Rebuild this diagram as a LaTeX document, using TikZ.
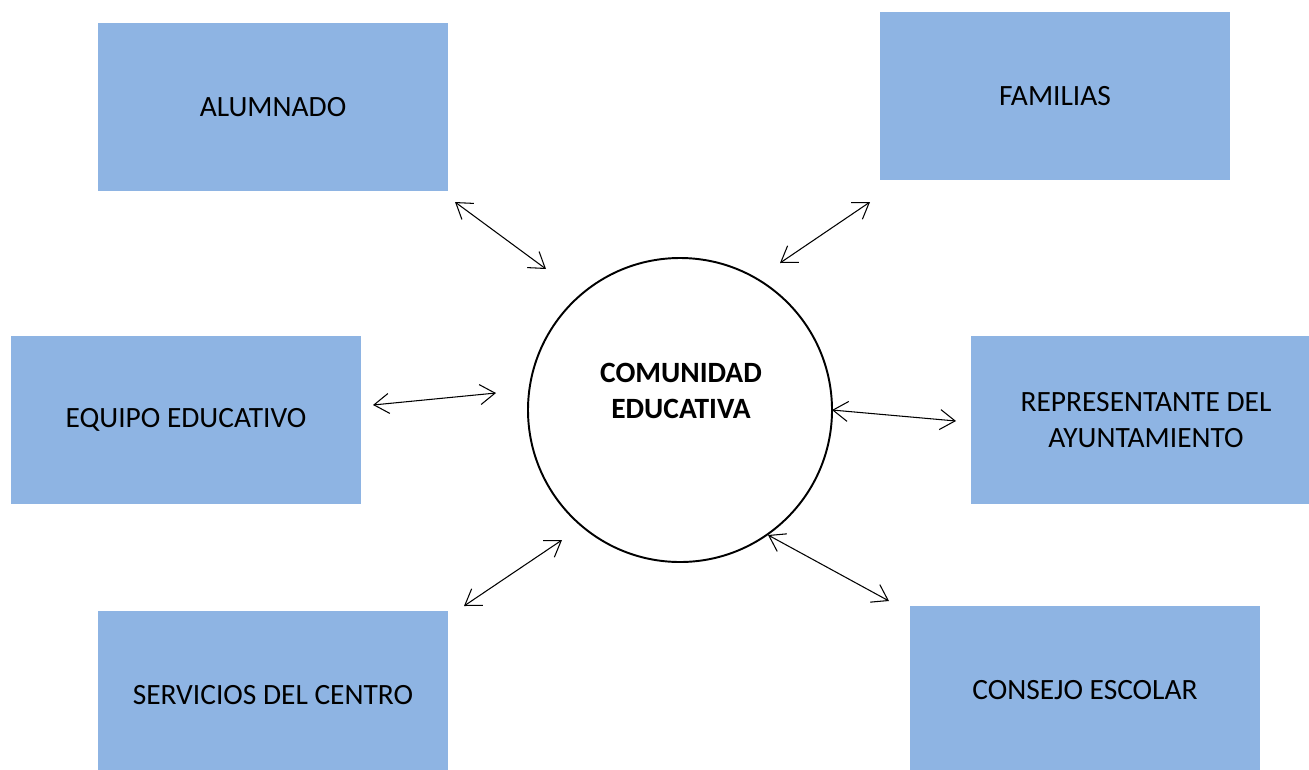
\documentclass[tikz,border=0pt]{standalone}
\usepackage{fontspec}
\setmainfont{Carlito}
\usetikzlibrary{arrows.meta, positioning}

\definecolor{boxblue}{HTML}{8EB4E3}

\tikzset{
  actor/.style={fill=boxblue, minimum width=7cm, minimum height=3.36cm,
    align=center, font=\fontsize{16.75}{20}\selectfont},
  link/.style={{Straight Barb[length=3mm,width=4mm]}-{Straight Barb[length=3mm,width=4mm]}, line width=0.6pt}
}

\begin{document}
\begin{tikzpicture}
    \path[use as bounding box, clip] (0,0) rectangle (26.18,-15.38);

    \node[circle, draw, line width=1.1pt, minimum size=6.08cm] (comunidad) at (13.6,-8.2) {};
    \node[align=center, font=\bfseries\fontsize{16.75}{20}\selectfont]
      (comunidad_label) at (13.62,-7.82) {COMUNIDAD\\EDUCATIVA};

    \node[actor] (alumnado) at (5.46,-2.14) {ALUMNADO};
    \node[actor] (familias) at (21.1,-1.92) {FAMILIAS};
    \node[actor] (equipo) at (3.72,-8.4) {EQUIPO EDUCATIVO};
    \node[actor] (ayto) at (22.92,-8.4) {REPRESENTANTE DEL\\AYUNTAMIENTO};
    \node[actor] (servicios) at (5.46,-13.9) {SERVICIOS DEL CENTRO};
    \node[actor] (consejo) at (21.7,-13.8) {CONSEJO ESCOLAR};

    % arrow ends
    \coordinate (alumnado-e) at (9.1,-4.04);
    \coordinate (comunidad-nw) at (10.92,-5.38);
    \coordinate (familias-e) at (17.4,-4.04);
    \coordinate (comunidad-ne) at (15.6,-5.26);
    \coordinate (equipo-e) at (7.46,-8.1);
    \coordinate (comunidad-w) at (9.92,-7.86);
    \coordinate (ayto-e) at (19.12,-8.42);
    \coordinate (comunidad-e) at (16.64,-8.2);
    \coordinate (servicios-e) at (9.28,-12.12);
    \coordinate (comunidad-sw) at (11.24,-10.8);
    \coordinate (consejo-e) at (17.78,-12.02);
    \coordinate (comunidad-se) at (15.36,-10.7);

    \draw[link] (alumnado-e) -- (comunidad-nw);
    \draw[link] (familias-e) -- (comunidad-ne);
    \draw[link] (equipo-e) -- (comunidad-w);
    \draw[link] (comunidad-e) -- (ayto-e);
    \draw[link] (servicios-e) -- (comunidad-sw);
    \draw[link] (comunidad-se) -- (consejo-e);

\end{tikzpicture}
\end{document}
